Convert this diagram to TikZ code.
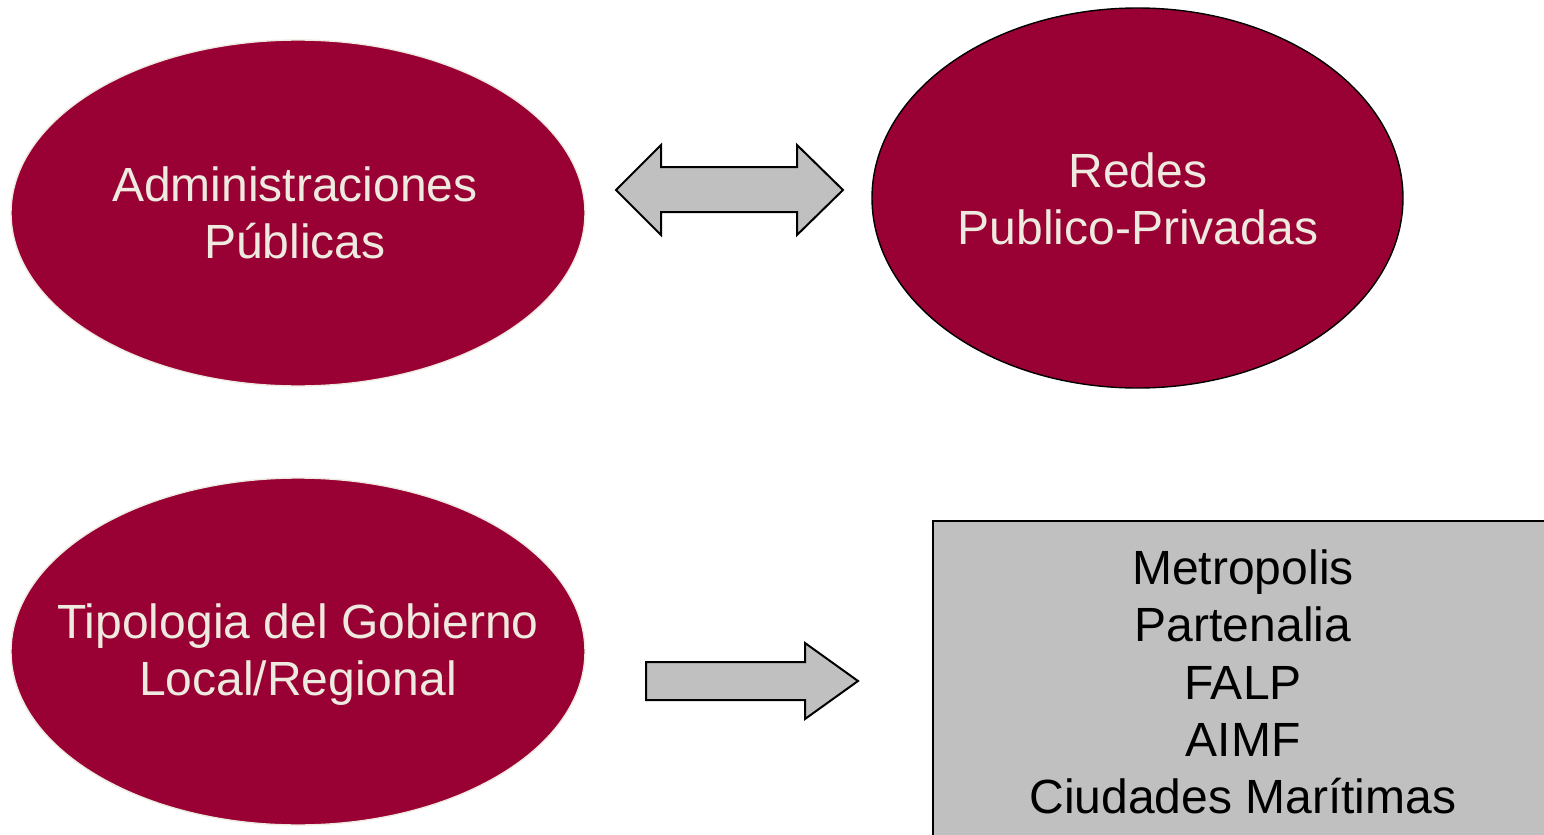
\documentclass[tikz,border=0pt]{standalone}
\usepackage{fontspec}
\setmainfont{Liberation Sans}
\usetikzlibrary{shapes.geometric}
\definecolor{maroon}{HTML}{990033}
\definecolor{cream}{HTML}{EEEAE0}
\definecolor{boxgray}{HTML}{C0C0C0}
\tikzset{
  oval/.style={ellipse, fill=maroon, inner sep=0pt, line width=0.7pt},
  ovaltext/.style={text=cream, align=center, inner sep=0pt,
    font=\fontsize{24}{28.5}\selectfont},
  blockarrow/.style={fill=boxgray, draw=black, line width=1pt, line join=miter},
  listbox/.style={rectangle, fill=boxgray, draw=black, line width=0.8pt, align=center,
    text=black, font=\fontsize{24}{28.7}\selectfont, inner sep=0pt,
    minimum width=310pt, minimum height=161pt}
}
\begin{document}
\begin{tikzpicture}[x=0.5pt,y=-0.5pt]
\useasboundingbox (0,0) rectangle (1544,835);
\node[oval, draw=cream, minimum width=287pt, minimum height=173pt] (ap) at (298,213) {};
\node[ovaltext] (apt) at (295,213) {Administraciones\\Públicas};
\node[oval, draw=black, minimum width=265.5pt, minimum height=190pt] (rp) at (1137.5,198) {};
\node[ovaltext] (rpt) at (1138,199) {Redes\\Publico-Privadas};
\node[oval, draw=cream, minimum width=287pt, minimum height=173.5pt] (tg) at (298,651.5) {};
\node[ovaltext] (tgt) at (298,655) {Tipologia del Gobierno\\Local/Regional};
\begin{scope}
\clip (0,0) rectangle (1544,835);
\node[listbox] (lst) at (1243,682)
  {Metropolis\\Partenalia\\FALP\\AIMF\\Ciudades Marítimas};
\end{scope}
% double arrow between top ellipses
\draw[blockarrow] (616,190) -- (661,145) -- (661,167) -- (797,167) -- (797,145)
  -- (843,190) -- (797,235) -- (797,212) -- (661,212) -- (661,235) -- cycle;
% single arrow toward the list box
\draw[blockarrow] (646,662) -- (805,662) -- (805,643) -- (858,681) -- (805,719)
  -- (805,700) -- (646,700) -- cycle;
\end{tikzpicture}
\end{document}
